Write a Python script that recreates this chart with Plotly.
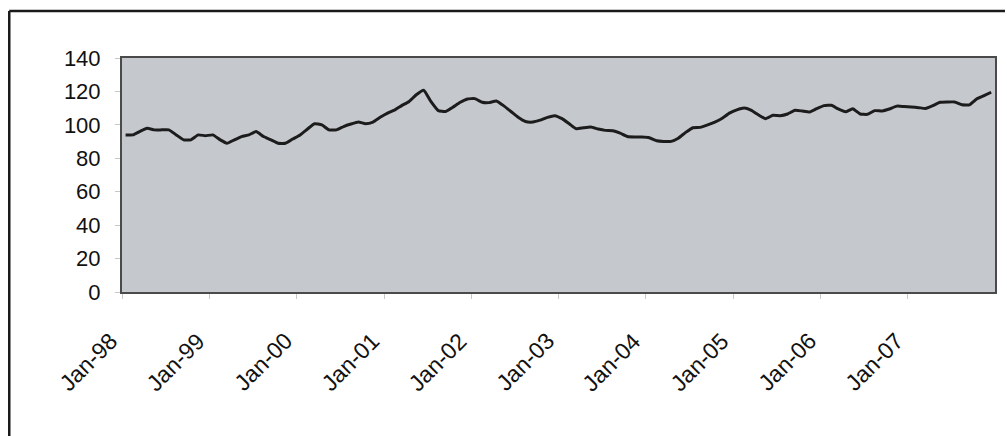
import pandas as pd
import plotly.graph_objects as go

# Monthly index values, Jan-1998 .. Dec-2007
y1998 = [94, 94, 96, 98, 97, 97, 97, 94, 91, 91, 94, 93.5]
y1999 = [94, 91, 89, 91, 93, 94, 96, 93, 91, 89, 89, 91.5]
y2000 = [94, 97.5, 100.7, 100, 97, 97, 99, 100.5, 101.7, 100.7, 101.7, 104.5]
y2001 = [107, 109, 111.5, 114, 118, 120.7, 114, 108.5, 108, 110.5, 113.5, 115.5]
y2002 = [115.7, 113.5, 113.3, 114.3, 111.5, 108, 104.5, 102, 101.7, 102.8, 104.5, 105.5]
y2003 = [103.7, 100.5, 97.7, 98.3, 98.7, 97.5, 96.7, 96.5, 95, 93, 92.7, 92.7]
y2004 = [92.3, 90.5, 90.1, 90.1, 92, 95.5, 98.3, 98.5, 100, 101.7, 104, 107]
y2005 = [109, 110.1, 108.8, 106, 103.7, 105.7, 105.5, 106.5, 108.7, 108.3, 107.7, 109.7]
y2006 = [111.5, 111.7, 109.5, 107.8, 109.7, 106.5, 106.3, 108.5, 108.3, 109.5, 111.2, 111]
y2007 = [110.7, 110.3, 109.8, 111.5, 113.5, 113.7, 113.7, 112, 112, 115.5, 117.5, 119.5]

values = y1998 + y1999 + y2000 + y2001 + y2002 + y2003 + y2004 + y2005 + y2006 + y2007
months = pd.date_range("1998-01-01", periods=len(values), freq="MS") + pd.Timedelta(days=15)

tick_dates = [f"{y}-01-01" for y in range(1998, 2008)]
tick_labels = ["Jan-98", "Jan-99", "Jan-00", "Jan-01", "Jan-02",
               "Jan-03", "Jan-04", "Jan-05", "Jan-06", "Jan-07"]
y_ticks = [0, 20, 40, 60, 80, 100, 120, 140]

fig = go.Figure()
fig.add_trace(go.Scatter(
    x=months, y=values, mode="lines",
    line=dict(color="#1c1c1c", width=3, shape="spline", smoothing=0.4),
    showlegend=False, hoverinfo="skip",
))

W, H = 1007, 436
L, R, T, B = 122, 10, 58, 144
pw, ph = W - L - R, H - T - B

def px(x):
    return (x - L) / pw

def py(y):
    return (H - B - y) / ph

# rotated category labels as annotations anchored under each tick
annotations = [
    dict(x=d, y=0, xref="x", yref="paper", text=t, showarrow=False,
         textangle=-45, xanchor="right", yanchor="top",
         xshift=3, yshift=-33,
         font=dict(family="Liberation Sans, Arial, sans-serif", size=23, color="#111"))
    for d, t in zip(tick_dates, tick_labels)
]

fig.update_layout(
    width=W, height=H,
    margin=dict(l=L, r=R, t=T, b=B),
    paper_bgcolor="white",
    plot_bgcolor="#c5c8cd",
    font=dict(family="Liberation Sans, Arial, sans-serif", color="#111", size=20),
    xaxis=dict(
        type="date",
        range=["1998-01-01", "2008-01-01"],
        tickvals=tick_dates, ticktext=tick_labels,
        showticklabels=False,
        ticks="outside", ticklen=5, tickcolor="#c8c8c8",
        showgrid=False, zeroline=False,
        showline=True, linecolor="#4a4a4a", linewidth=2, mirror=True,
    ),
    yaxis=dict(
        range=[0, 140],
        tickvals=y_ticks,
        ticks="outside", ticklen=5, tickcolor="#c8c8c8",
        tickfont=dict(size=22),
        ticklabelstandoff=10,
        showgrid=False, zeroline=False,
        showline=True, linecolor="#4a4a4a", linewidth=2, mirror=True,
    ),
    annotations=annotations,
    shapes=[
        dict(type="line", xref="paper", yref="paper",
             x0=px(9), x1=px(1007), y0=py(11), y1=py(11),
             line=dict(color="#1a1a1a", width=2.5)),
        dict(type="line", xref="paper", yref="paper",
             x0=px(9), x1=px(9), y0=py(11), y1=py(436),
             line=dict(color="#1a1a1a", width=2.5)),
    ],
)

fig.write_html("out.html")
